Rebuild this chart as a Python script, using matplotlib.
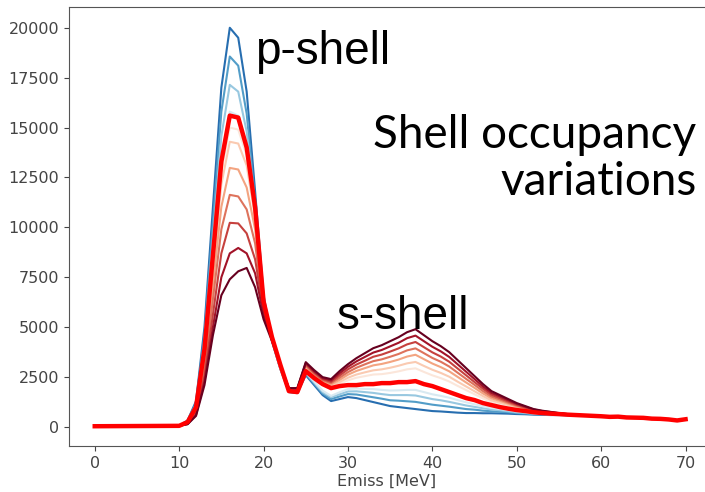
import matplotlib
matplotlib.use("Agg")
import matplotlib.pyplot as plt

# missing energy grid [MeV]
emiss = [0, 10, 11, 12, 13, 14, 15, 16, 17, 18, 19, 20,
         21, 22, 23, 24, 25, 26, 27, 28, 29, 30,
         31, 32, 33, 34, 35, 36, 37, 38, 39, 40,
         41, 42, 43, 44, 45, 46, 47, 48, 49, 50,
         51, 52, 53, 54, 55, 56, 57, 58, 59, 60,
         61, 62, 63, 64, 65, 66, 67, 68, 69, 70]

# occupancy variations, from most p-shell (blue) to most s-shell (dark red)
v01 = [40, 60, 330, 1300, 5000, 11000, 17000, 20000, 19500, 16800, 11800, 6600,
       4300, 2900, 1750, 1700, 2600, 2100, 1600, 1300, 1400, 1500,
       1450, 1350, 1250, 1150, 1050, 1000, 950, 900, 850, 800,
       780, 750, 720, 700, 700, 690, 690, 680, 670, 650,
       640, 620, 610, 600, 600, 590, 580, 570, 560, 540,
       510, 520, 480, 470, 460, 420, 410, 380, 330, 390]
v02 = [40, 60, 300, 1210, 4640, 10200, 15800, 18560, 18100, 15700, 11300, 6500,
       4300, 2920, 1770, 1720, 2660, 2170, 1680, 1400, 1530, 1650,
       1630, 1560, 1490, 1420, 1340, 1320, 1290, 1260, 1190, 1120,
       1070, 1020, 960, 900, 870, 820, 790, 760, 740, 700,
       680, 650, 630, 610, 610, 600, 580, 570, 560, 540,
       510, 520, 480, 470, 460, 420, 410, 380, 330, 390]
v03 = [40, 60, 280, 1110, 4290, 9430, 14570, 17140, 16800, 14800, 11100, 6400,
       4350, 2930, 1780, 1740, 2710, 2230, 1750, 1490, 1640, 1780,
       1790, 1750, 1710, 1650, 1600, 1600, 1600, 1580, 1490, 1400,
       1340, 1260, 1170, 1080, 1010, 940, 880, 840, 790, 740,
       710, 670, 650, 630, 620, 600, 590, 570, 560, 540,
       510, 520, 480, 470, 460, 420, 410, 380, 330, 390]
v04 = [40, 60, 260, 1030, 3950, 8690, 13430, 15800, 15600, 14100, 11000, 6350,
       4400, 2950, 1800, 1760, 2760, 2280, 1820, 1560, 1740, 1900,
       1930, 1910, 1900, 1860, 1830, 1840, 1860, 1860, 1750, 1640,
       1560, 1470, 1350, 1240, 1140, 1040, 960, 900, 850, 780,
       740, 690, 660, 640, 620, 600, 590, 570, 560, 540,
       510, 520, 480, 470, 460, 420, 410, 380, 330, 390]
v05 = [40, 60, 240, 980, 3750, 8250, 12750, 15000, 14900, 13600, 10800, 6200,
       4500, 3000, 1850, 1830, 2930, 2480, 2200, 2000, 2150, 2340,
       2470, 2550, 2630, 2650, 2710, 2790, 2890, 2940, 2760, 2590,
       2450, 2280, 2060, 1850, 1640, 1430, 1260, 1150, 1040, 930,
       850, 760, 720, 680, 650, 620, 600, 580, 560, 540,
       510, 520, 480, 470, 460, 420, 410, 380, 330, 390]
v06 = [40, 60, 230, 930, 3570, 7860, 12150, 14290, 14200, 13100, 10500, 6100,
       4500, 3020, 1870, 1850, 2980, 2540, 2250, 2060, 2250, 2470,
       2630, 2740, 2840, 2890, 2970, 3070, 3190, 3260, 3060, 2870,
       2710, 2520, 2270, 2030, 1790, 1550, 1340, 1220, 1100, 970,
       880, 790, 730, 690, 660, 630, 600, 580, 560, 540,
       510, 520, 480, 470, 460, 420, 410, 380, 330, 390]
v07 = [40, 60, 210, 840, 3250, 7140, 11030, 12980, 12900, 12000, 9900, 6000,
       4500, 3040, 1890, 1870, 3040, 2610, 2300, 2130, 2360, 2620,
       2810, 2950, 3090, 3160, 3260, 3380, 3530, 3620, 3400, 3180,
       3000, 2790, 2510, 2230, 1960, 1680, 1440, 1310, 1170, 1020,
       920, 810, 750, 710, 670, 630, 610, 580, 560, 540,
       510, 520, 480, 470, 460, 420, 410, 380, 330, 390]
v08 = [40, 60, 190, 760, 2900, 6400, 9900, 11630, 11550, 10900, 9200, 5900,
       4450, 3050, 1900, 1890, 3090, 2670, 2350, 2200, 2470, 2750,
       2970, 3140, 3300, 3390, 3520, 3660, 3840, 3940, 3700, 3460,
       3270, 3030, 2720, 2410, 2110, 1800, 1530, 1380, 1220, 1070,
       950, 830, 770, 720, 680, 640, 610, 590, 560, 540,
       510, 520, 480, 470, 460, 420, 410, 380, 330, 390]
v09 = [40, 60, 170, 670, 2560, 5630, 8700, 10230, 10200, 9700, 8400, 5800,
       4400, 3070, 1920, 1910, 3150, 2730, 2400, 2260, 2580, 2890,
       3130, 3320, 3520, 3630, 3780, 3940, 4140, 4260, 4000, 3740,
       3530, 3270, 2930, 2590, 2250, 1920, 1620, 1450, 1280, 1110,
       980, 850, 790, 730, 680, 640, 610, 590, 560, 540,
       510, 520, 480, 470, 460, 420, 410, 380, 330, 390]
v10 = [40, 60, 150, 600, 2300, 5000, 7500, 8700, 8970, 8700, 7700, 5600,
       4400, 3080, 1930, 1930, 3200, 2790, 2450, 2330, 2690, 3020,
       3290, 3510, 3730, 3860, 4040, 4220, 4450, 4580, 4300, 4020,
       3790, 3510, 3140, 2770, 2400, 2030, 1710, 1530, 1340, 1160,
       1020, 880, 800, 750, 690, 650, 620, 590, 560, 540,
       510, 520, 480, 470, 460, 420, 410, 380, 330, 390]
v11 = [40, 60, 140, 560, 2100, 4600, 6600, 7400, 7800, 7970, 7000, 5400,
       4300, 3100, 1950, 1950, 3250, 2850, 2500, 2400, 2800, 3150,
       3450, 3700, 3950, 4100, 4300, 4500, 4750, 4900, 4600, 4300,
       4050, 3750, 3350, 2950, 2550, 2150, 1800, 1600, 1400, 1200,
       1050, 900, 820, 760, 700, 650, 620, 590, 560, 540,
       510, 520, 480, 470, 460, 420, 410, 380, 330, 390]

# nominal occupancy
nominal = [40, 60, 250, 1000, 3900, 8600, 13300, 15600, 15500, 14000, 11000, 6300,
           4500, 3100, 1800, 1750, 2800, 2450, 2150, 1950, 2050, 2100,
           2100, 2150, 2150, 2200, 2200, 2250, 2250, 2300, 2150, 2050,
           1900, 1750, 1600, 1450, 1350, 1200, 1100, 1000, 920, 850,
           800, 740, 700, 670, 650, 620, 600, 580, 560, 540,
           510, 520, 480, 470, 460, 420, 410, 380, 330, 390]

variations = [v01, v02, v03, v04, v05, v06, v07, v08, v09, v10, v11]
cmap_pos = [0.12, 0.22, 0.31, 0.42, 0.56, 0.63, 0.70, 0.77, 0.84, 0.92, 1.0]

cmap = plt.get_cmap("RdBu_r")

fig = plt.figure(figsize=(7.05, 4.92), dpi=100)
ax = fig.add_axes([69 / 705, 46 / 492, 1 - 69 / 705, 439 / 492])

for vals, c in zip(variations, cmap_pos):
    ax.plot(emiss, vals, color=cmap(c), lw=1.5)
ax.plot(emiss, nominal, color="red", lw=3.2)

ax.set_xlim(-3.05, 72.3)
ax.set_ylim(-950, 21040)
ax.set_xticks([0, 10, 20, 30, 40, 50, 60, 70])
ax.set_yticks([0, 2500, 5000, 7500, 10000, 12500, 15000, 17500, 20000])
ax.tick_params(labelsize=11.5, colors="#444444")
ax.set_xlabel("Emiss [MeV]", fontsize=11.5, color="#444444", labelpad=2)
ax.spines["right"].set_visible(False)
for s in ["left", "bottom", "top"]:
    ax.spines[s].set_color("#555555")

# annotations
ax.text(18.96, 18190, "p-shell", fontsize=33, family="Liberation Sans", va="baseline")
ax.text(28.67, 4910, "s-shell", fontsize=33, family="Liberation Sans", va="baseline")
ax.text(71.3, 13980, "Shell occupancy", fontsize=33, family="Lato", ha="right", va="baseline")
ax.text(71.3, 11620, "variations", fontsize=33, family="Lato", ha="right", va="baseline")

fig.savefig("out.png", dpi=100)
